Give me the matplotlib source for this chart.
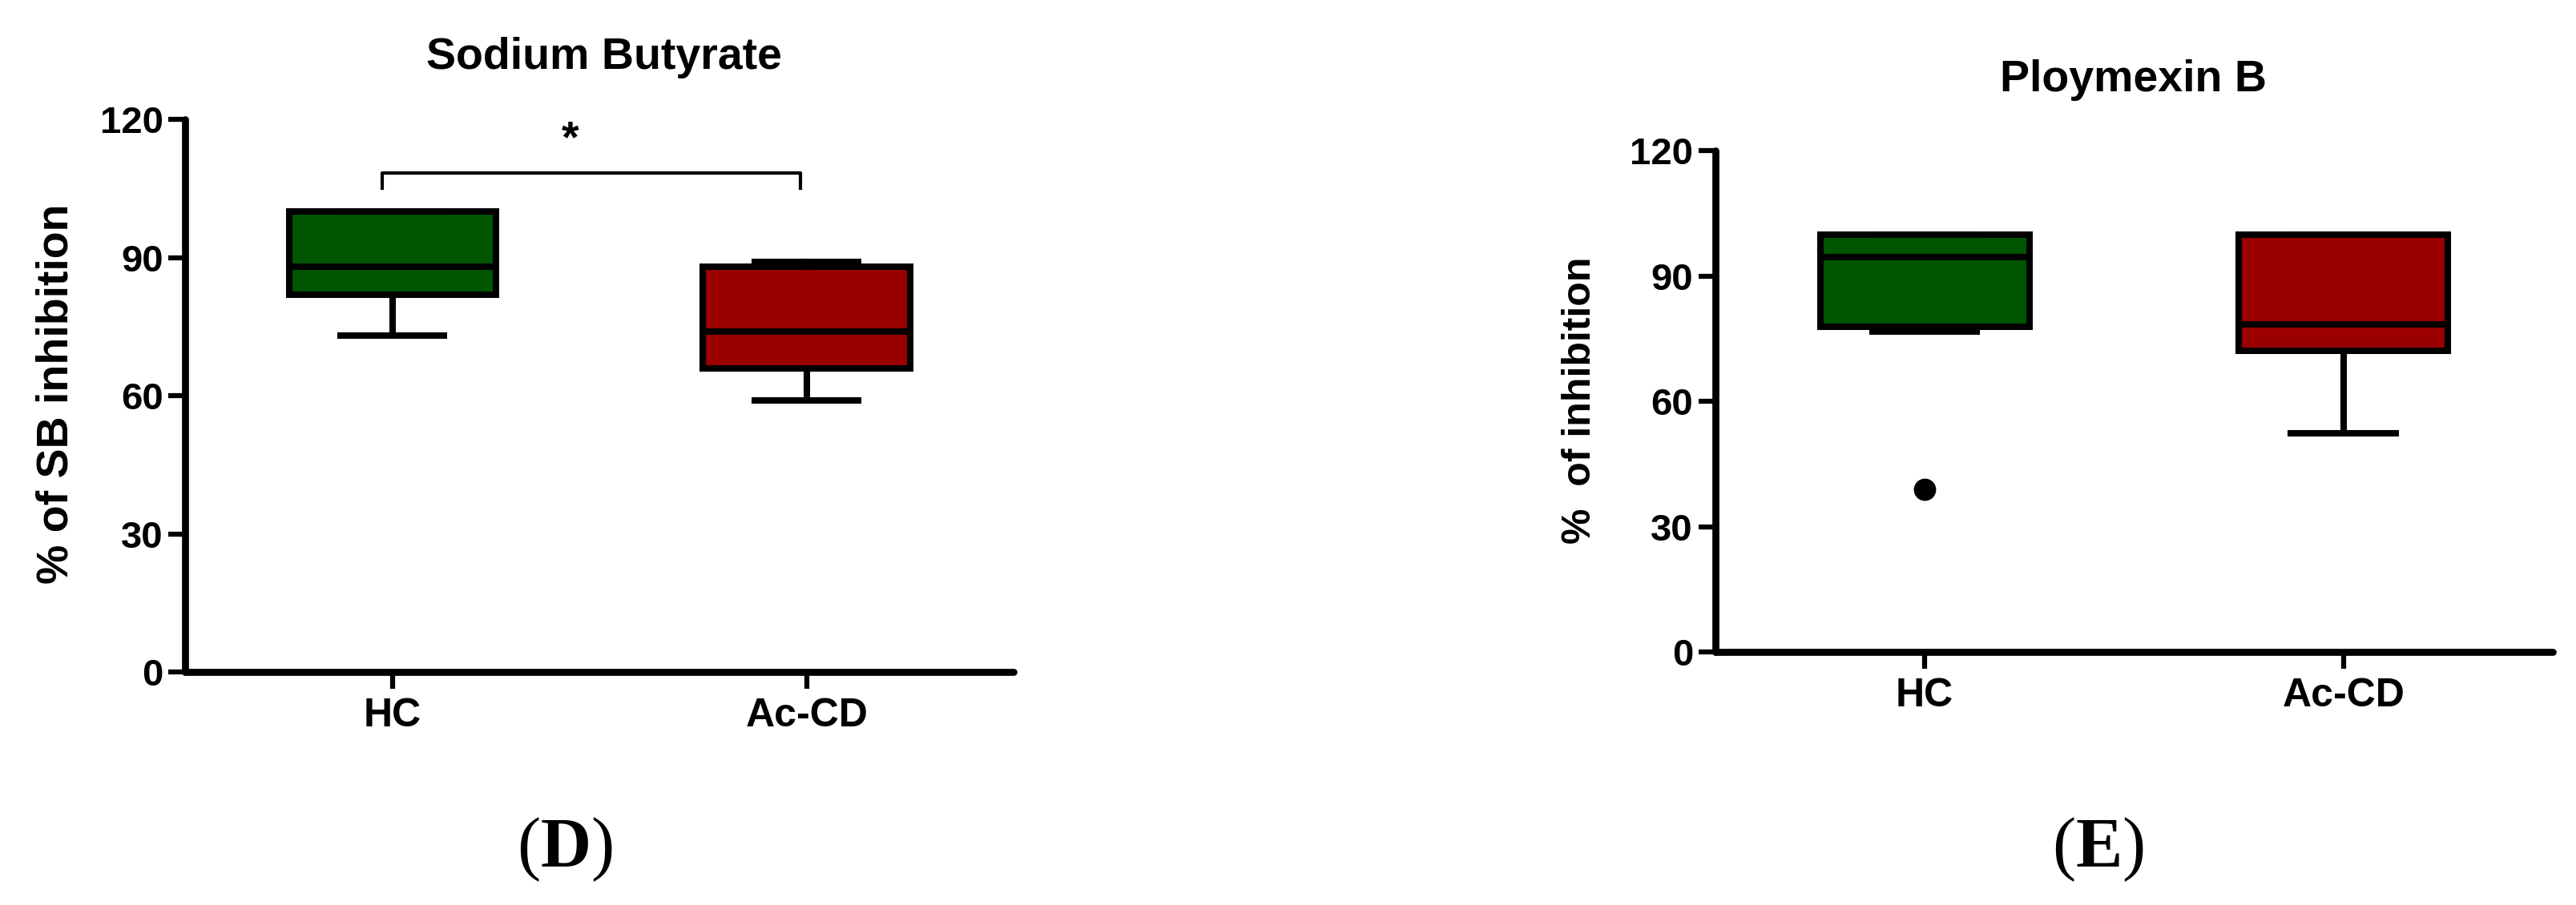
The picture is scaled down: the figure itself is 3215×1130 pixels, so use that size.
import matplotlib.pyplot as plt

plt.rcParams['font.family'] = ['Liberation Sans', 'DejaVu Sans']
plt.rcParams['mathtext.fontset'] = 'custom'
plt.rcParams['mathtext.bf'] = 'Liberation Serif:bold'

# 数据
groups = ['HC', 'Ac-CD']
colors = ['#005500', '#9b0000']

# Sodium Butyrate
sb_q1 = [82.0, 66.0]
sb_med = [88.0, 74.0]
sb_q3 = [100.0, 88.0]
sb_lo = [73.0, 59.0]
sb_hi = [100.0, 89.0]
sb_fliers = [[], []]

# Ploymexin B
pb_q1 = [77.8, 72.2]
pb_med = [94.5, 78.4]
pb_q3 = [100.0, 100.0]
pb_lo = [76.8, 52.4]
pb_hi = [100.0, 100.0]
pb_fliers = [[38.9], []]

yticks = [0, 30, 60, 90, 120]

fig = plt.figure(figsize=(32.15, 11.30), dpi=100)
ax1 = fig.add_axes([0.0720, 0.2573, 0.3215, 0.6107])
ax2 = fig.add_axes([0.6659, 0.2796, 0.3251, 0.5538])


def draw(ax, q1, med, q3, lo, hi, fliers):
    stats = []
    for i in range(len(groups)):
        stats.append(dict(q1=q1[i], med=med[i], q3=q3[i], whislo=lo[i],
                          whishi=hi[i], fliers=fliers[i]))
    lw = 5.8
    bp = ax.bxp(stats, positions=[1, 2], widths=0.5, capwidths=0.25,
                patch_artist=True, showfliers=True,
                boxprops=dict(linewidth=lw, edgecolor='black'),
                medianprops=dict(color='black', linewidth=lw),
                whiskerprops=dict(color='black', linewidth=lw),
                capprops=dict(color='black', linewidth=lw),
                flierprops=dict(marker='o', markerfacecolor='black',
                                markeredgecolor='black', markersize=19))
    for patch, c in zip(bp['boxes'], colors):
        patch.set_facecolor(c)
        patch.set_joinstyle('miter')
    ax.set_xlim(0.5, 2.5)
    ax.set_ylim(0, 120)
    ax.set_yticks(yticks)
    ax.set_xticks([1, 2])
    ax.set_xticklabels(groups)
    for s in ['top', 'right']:
        ax.spines[s].set_visible(False)
    for s in ['left', 'bottom']:
        ax.spines[s].set_linewidth(6.3)
        ax.spines[s].set_capstyle('round')
    ax.tick_params(direction='out', length=15, width=4.5)
    ax.tick_params(axis='y', pad=5, labelsize=34)
    ax.tick_params(axis='x', pad=8, labelsize=36)
    for lab in ax.get_xticklabels() + ax.get_yticklabels():
        lab.set_fontweight('bold')
    for line in ax.lines:
        line.set_clip_on(False)


draw(ax1, sb_q1, sb_med, sb_q3, sb_lo, sb_hi, sb_fliers)
draw(ax2, pb_q1, pb_med, pb_q3, pb_lo, pb_hi, pb_fliers)

# 显著性标记
ax1.plot([0.975, 0.975, 1.985, 1.985], [105, 108.4, 108.4, 105],
         color='black', linewidth=3, clip_on=False)
ax1.text(1.43, 115.5, '*', ha='center', va='center', fontsize=40,
         fontweight='bold')

# 标题
fig.text(0.2345, 0.9366, 'Sodium Butyrate', ha='center', va='center',
         fontsize=40, fontweight='bold')
fig.text(0.8282, 0.9112, 'Ploymexin B', ha='center', va='center',
         fontsize=40, fontweight='bold')

fig.text(0.0218, 0.5646, '% of SB inhibition', rotation=90, ha='center',
         va='center', fontsize=40, fontweight='bold')
fig.text(0.6134, 0.5575, '%  of inhibition', rotation=90, ha='center',
         va='center', fontsize=36, fontweight='bold')

fig.text(0.2193, 0.0611, r'($\mathbf{D}$)', ha='center', va='center',
         fontsize=63, family='Liberation Serif')
fig.text(0.8143, 0.0611, r'($\mathbf{E}$)', ha='center', va='center',
         fontsize=63, family='Liberation Serif')

fig.savefig('out.png', dpi=100, facecolor='white')
